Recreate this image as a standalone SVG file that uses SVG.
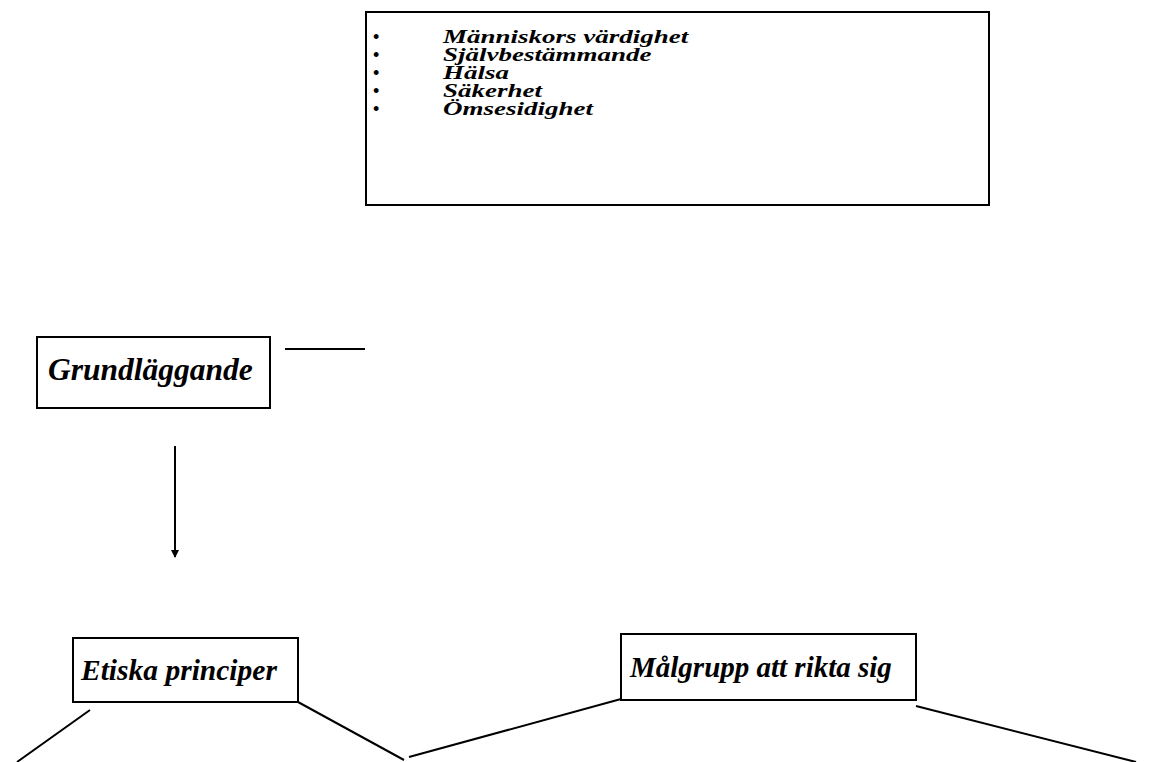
<svg xmlns="http://www.w3.org/2000/svg" width="1154" height="762" viewBox="0 0 1154 762">
<style>
.box{fill:#fff;stroke:#000;stroke-width:2}
.lbl{font-family:"Liberation Serif","Times New Roman",serif;font-weight:bold;font-style:italic;fill:#000}
.li{font-size:18px}
.bul{font-family:"Liberation Sans",Arial,sans-serif;font-size:18px;fill:#000}
.con{stroke:#000;stroke-width:2;fill:none}
</style>
<defs>
<marker id="ah" markerWidth="8" markerHeight="8" refX="7" refY="4" orient="auto" markerUnits="userSpaceOnUse">
<path d="M0,0 L8,4 L0,8 Z" fill="#000"/>
</marker>
</defs>
<g id="values">
<rect class="box" x="366" y="12" width="623" height="193"/>
<text class="bul" x="373" y="43">•</text>
<text class="bul" x="373" y="61">•</text>
<text class="bul" x="373" y="79">•</text>
<text class="bul" x="373" y="97">•</text>
<text class="bul" x="373" y="115">•</text>
<g transform="translate(443,0) scale(1.5,1)">
<text class="lbl li" x="0" y="43">Människors värdighet</text>
<text class="lbl li" x="0" y="61">Självbestämmande</text>
<text class="lbl li" x="0" y="79">Hälsa</text>
<text class="lbl li" x="0" y="97">Säkerhet</text>
<text class="lbl li" x="0" y="115">Ömsesidighet</text>
</g>
</g>
<g id="grundlaggande">
<rect class="box" x="37" y="337" width="233" height="71"/>
<text class="lbl" font-size="31.5" x="48" y="380">Grundläggande</text>
</g>
<g id="etiska">
<rect class="box" x="73" y="638" width="225" height="64"/>
<text class="lbl" font-size="29.5" x="81" y="680">Etiska principer</text>
</g>
<g id="malgrupp">
<rect class="box" x="621" y="634" width="295" height="66"/>
<text class="lbl" font-size="29" x="630" y="677">Målgrupp att rikta sig</text>
</g>
<g id="connectors">
<line class="con" x1="285" y1="349" x2="365" y2="349"/>
<line class="con" x1="175" y1="446" x2="175" y2="557" marker-end="url(#ah)"/>
<line class="con" x1="90" y1="710" x2="17" y2="762"/>
<line class="con" x1="298" y1="702" x2="404" y2="760"/>
<line class="con" x1="409" y1="757" x2="621" y2="699"/>
<line class="con" x1="916" y1="706" x2="1136" y2="762"/>
</g>
</svg>
